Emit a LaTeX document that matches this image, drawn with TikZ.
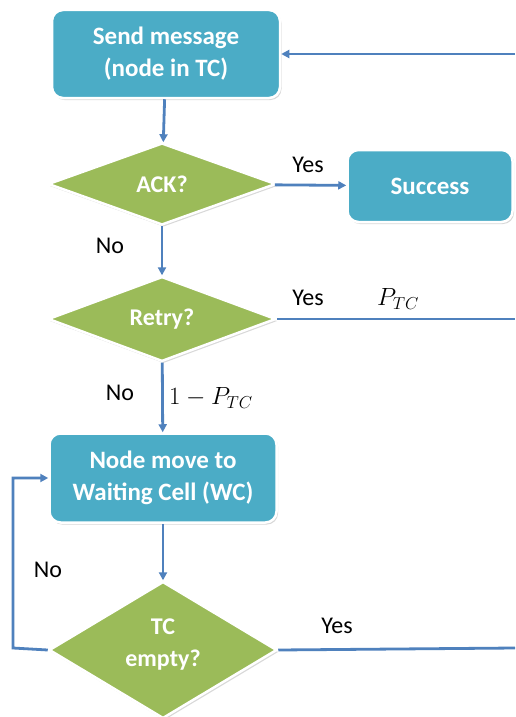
\documentclass[tikz,border=0pt]{standalone}
\usepackage{fontspec}
\setmainfont{Carlito}
\usetikzlibrary{shapes.geometric,shadows,arrows.meta}
\definecolor{boxblue}{HTML}{4BACC6}
\definecolor{decgreen}{HTML}{9BBB59}
\definecolor{flowline}{HTML}{4F81BD}
\tikzset{
  box/.style={draw=white, line width=2.5pt, fill=boxblue, rounded corners=11pt,
    text=white, font=\fontsize{25}{32}\selectfont\bfseries, align=center,
    drop shadow={shadow xshift=1.5pt, shadow yshift=-2pt, opacity=0.25, fill=black!60}},
  dec/.style={diamond, draw=white, line width=2.5pt, fill=decgreen, inner sep=0pt,
    minimum width=228pt, minimum height=82pt,
    text=white, font=\fontsize{24}{32}\selectfont\bfseries, align=center,
    drop shadow={shadow xshift=1.5pt, shadow yshift=-2pt, opacity=0.25, fill=black!60}},
  flow/.style={draw=flowline, line width=2.8pt},
  arr/.style={flow, -{Triangle[length=8pt,width=8pt]}},
  lbl/.style={font=\fontsize{24}{28}\selectfont, inner sep=0pt},
  mlbl/.style={font=\fontsize{27}{30}\selectfont, inner sep=0pt},
}
\begin{document}
\begin{tikzpicture}[x=1pt,y=-1pt]
\useasboundingbox[fill=white] (0,0) rectangle (515,717);

% process boxes and decisions
\node[box, minimum width=228pt, minimum height=88pt] (send) at (166,54) {Send message\\(node in TC)};
\node[dec] (ack) at (162,184) {ACK?};
\node[box, minimum width=165pt, minimum height=72pt] (succ) at (430,186) {Success};
\node[dec] (retry) at (162,319) {Retry?};
\node[box, minimum width=227pt, minimum height=89pt] (wc) at (163,478) {Node move to\\Waiting Cell (WC)};
\node[dec, minimum height=126pt, text depth=14pt] (tc) at (163,650) {TC\\empty?};

% free ends on the right margin
\coordinate (e1) at (515,54);
\coordinate (e2) at (515,319);
\coordinate (e3) at (515,648);
\coordinate (loop) at (13,648);

% connectors
\draw[arr] (e1) -- (send.east);
\draw[arr] (send) -- (ack);
\draw[arr] (ack) -- (succ);
\draw[arr] (ack) -- (retry);
\draw[flow] (retry.east) -- (e2);
\draw[arr] (retry) -- (wc);
\draw[arr] (wc) -- (tc);
\draw[flow] (tc.east) -- (e3);
\draw[arr] (tc.west) -- (loop) |- (wc.west);

% branch labels
\node[lbl] (yes1) at (308,165) {Yes};
\node[lbl] (no1) at (110,246) {No};
\node[lbl] (yes2) at (308,298) {Yes};
\node[mlbl] (p1) at (398,299) {$P_{TC}$};
\node[lbl] (no2) at (120,393) {No};
\node[mlbl] (p2) at (211,398) {$1-P_{TC}$};
\node[lbl] (no3) at (48,570) {No};
\node[lbl] (yes3) at (337,626) {Yes};
\end{tikzpicture}
\end{document}
